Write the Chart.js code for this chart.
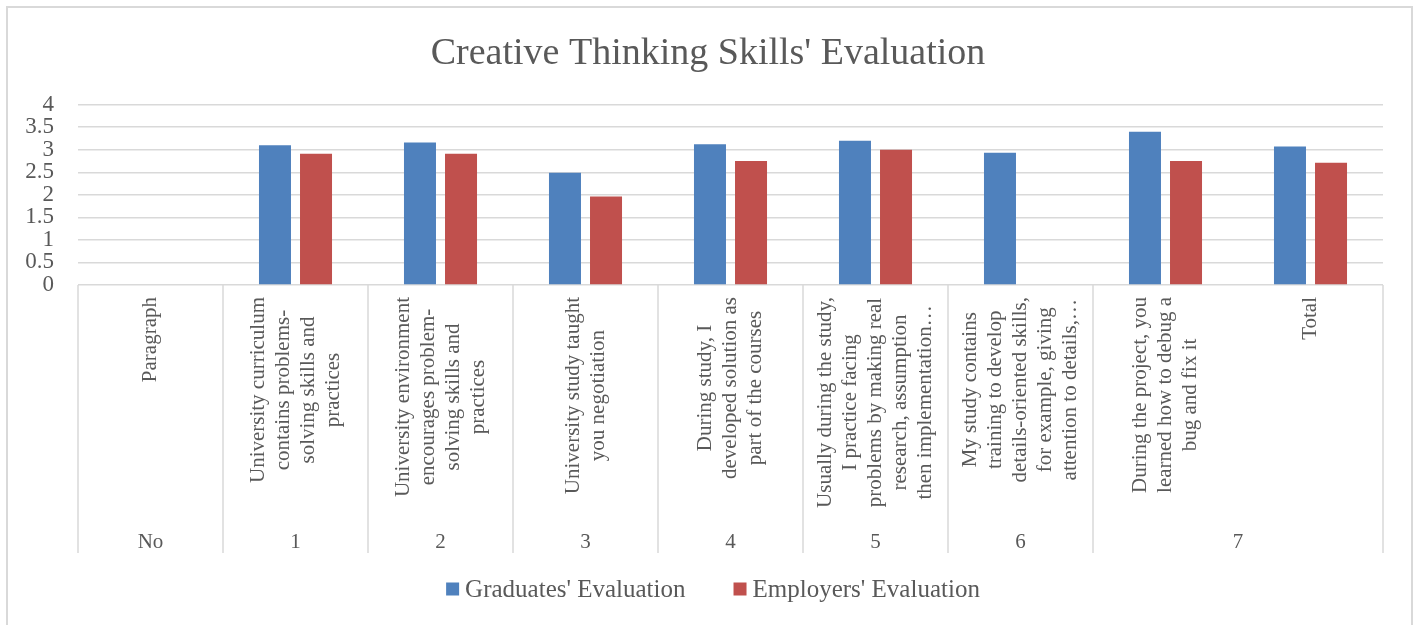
<!DOCTYPE html>
<html>
<head>
<meta charset="utf-8">
<title>Creative Thinking Skills' Evaluation</title>
<script src="https://cdn.jsdelivr.net/npm/chart.js@4.4.1/dist/chart.umd.min.js"></script>
<style>
    html, body { margin: 0; padding: 0; background: #fff; }
    #wrap { position: relative; width: 1416px; height: 625px; }
</style>
</head>
<body>
<div id="wrap"><canvas id="skillsChart"></canvas></div>
<script>
// questions (first row of the category axis), one entry per line of text
const questionLabels = [
    ['Paragraph'],
    ['University curriculum', 'contains problems-', 'solving skills and', 'practices'],
    ['University environment', 'encourages problem-', 'solving skills and', 'practices'],
    ['University study taught', 'you negotiation'],
    ['During study, I', 'developed solution as', 'part of the courses'],
    ['Usually during the study,', 'I practice facing', 'problems by making real', 'research, assumption', 'then implementation…'],
    ['My study contains', 'training to develop', 'details-oriented skills,', 'for example, giving', 'attention to details,…'],
    ['During the project, you', 'learned how to debug a', 'bug and fix it'],
    ['Total']
];

// second row of the category axis and how many questions each cell covers
const groupLabels = ['No', '1', '2', '3', '4', '5', '6', '7'];
const groupSpans = [1, 1, 1, 1, 1, 1, 1, 2];

const seriesNames = ["Graduates' Evaluation", "Employers' Evaluation"];
const graduatesValues = [null, 3.1, 3.16, 2.49, 3.12, 3.2, 2.93, 3.4, 3.07];
const employersValues = [null, 2.91, 2.91, 1.96, 2.75, 3.0, null, 2.75, 2.71];

const valueTicks = [0, 0.5, 1, 1.5, 2, 2.5, 3, 3.5, 4];

const FONT = "'Liberation Serif', 'Times New Roman', serif";
const TEXT_COLOR = '#595959';
const LINE_COLOR = '#d9d9d9';
const SERIES_COLORS = ['#4f81bd', '#c0504d'];

// draws the outer frame, the two-row category axis and the legend
const categoryAxisPlugin = {
    id: 'categoryAxis',
    beforeDraw(chart) {
        const {ctx, width} = chart;
        ctx.save();
        ctx.strokeStyle = LINE_COLOR;
        ctx.lineWidth = 2;
        ctx.strokeRect(7, 7, width - 11, 640);
        ctx.restore();
    },
    afterDraw(chart) {
        const {ctx, width} = chart;
        const xs = chart.scales.x;
        const step = xs.getPixelForValue(1) - xs.getPixelForValue(0);
        const firstEdge = xs.getPixelForValue(0) - step / 2;

        ctx.save();

        // separators between the groups of the lower row
        const edges = [0];
        groupSpans.forEach(span => edges.push(edges[edges.length - 1] + span));
        ctx.strokeStyle = LINE_COLOR;
        ctx.lineWidth = 1.5;
        edges.forEach(e => {
            const px = firstEdge + e * step;
            ctx.beginPath();
            ctx.moveTo(px, xs.top);
            ctx.lineTo(px, xs.bottom);
            ctx.stroke();
        });

        // rotated question texts
        ctx.fillStyle = TEXT_COLOR;
        ctx.font = `21px ${FONT}`;
        ctx.textAlign = 'center';
        ctx.textBaseline = 'middle';
        questionLabels.forEach((lines, i) => {
            const cx = xs.getPixelForValue(i);
            const maxW = Math.max(...lines.map(l => ctx.measureText(l).width));
            ctx.save();
            ctx.translate(cx, xs.top + 12 + maxW / 2);
            ctx.rotate(-Math.PI / 2);
            lines.forEach((line, j) => {
                ctx.fillText(line, 0, (j - (lines.length - 1) / 2) * 25);
            });
            ctx.restore();
        });

        // group numbers
        groupLabels.forEach((label, g) => {
            const left = firstEdge + edges[g] * step;
            const right = firstEdge + edges[g + 1] * step;
            ctx.fillText(label, (left + right) / 2, xs.bottom - 11);
        });

        // legend
        ctx.font = `25px ${FONT}`;
        ctx.textAlign = 'left';
        const box = 13, boxGap = 6, itemGap = 48;
        const itemWidths = seriesNames.map(n => box + boxGap + ctx.measureText(n).width);
        const total = itemWidths.reduce((a, b) => a + b, 0) + itemGap * (seriesNames.length - 1);
        let lx = width / 2 + 5 - total / 2;
        const ly = 589;
        seriesNames.forEach((name, k) => {
            ctx.fillStyle = SERIES_COLORS[k];
            ctx.fillRect(lx, ly - box / 2, box, box);
            ctx.fillStyle = TEXT_COLOR;
            ctx.fillText(name, lx + box + boxGap, ly + 1);
            lx += itemWidths[k] + itemGap;
        });

        ctx.restore();
    }
};

const ctx = document.getElementById('skillsChart').getContext('2d');

new Chart(ctx, {
    type: 'bar',
    data: {
        labels: questionLabels.map(lines => lines.join(' ')),
        datasets: [
            {label: seriesNames[0], data: graduatesValues, backgroundColor: SERIES_COLORS[0]},
            {label: seriesNames[1], data: employersValues, backgroundColor: SERIES_COLORS[1]}
        ]
    },
    options: {
        responsive: true,
        maintainAspectRatio: false,
        animation: false,
        datasets: {
            bar: {categoryPercentage: 0.566, barPercentage: 0.78}
        },
        layout: {
            padding: {top: 8, left: 8, right: 8, bottom: 72}
        },
        plugins: {
            legend: {display: false},
            tooltip: {enabled: false},
            title: {
                display: true,
                text: "Creative Thinking Skills' Evaluation",
                color: TEXT_COLOR,
                font: {family: FONT, size: 38, weight: 'normal'},
                padding: {top: 23, bottom: 28}
            }
        },
        scales: {
            x: {
                grid: {display: false},
                border: {display: false},
                ticks: {display: false},
                afterFit: scale => { scale.height = 268; }
            },
            y: {
                min: 0,
                max: 4,
                afterBuildTicks: scale => { scale.ticks = valueTicks.map(v => ({value: v})); },
                ticks: {
                    color: TEXT_COLOR,
                    font: {family: FONT, size: 23},
                    padding: 24,
                    autoSkip: false,
                    callback: v => String(v)
                },
                grid: {color: LINE_COLOR, lineWidth: 1.5, drawTicks: false},
                border: {display: false},
                afterFit: scale => { scale.width = 70; }
            },
            // empty right-hand strip so the plot ends where the original does
            yRight: {
                position: 'right',
                grid: {display: false},
                border: {display: false},
                ticks: {display: false},
                afterFit: scale => { scale.width = 25; }
            }
        }
    },
    plugins: [categoryAxisPlugin]
});
</script>
</body>
</html>
